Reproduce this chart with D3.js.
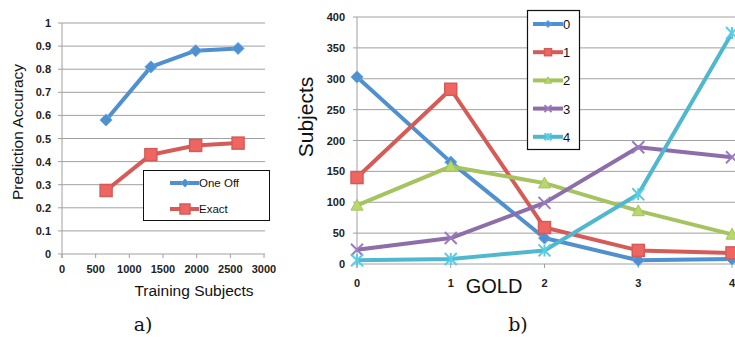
<!DOCTYPE html>
<html>
  <head>
    <meta charset="UTF-8" />
    <style>
      body { margin: 0; background: #fff; }
    </style>
  </head>
  <body>
    <script src="https://cdn.jsdelivr.net/npm/d3@7/dist/d3.min.js"></script>
    <script>
      // chart a) data
      var trainSizes = [655, 1320, 1985, 2615];
      var oneOff = [0.58, 0.81, 0.88, 0.89];
      var exact = [0.275, 0.43, 0.47, 0.48];
      var accTicks = [0, 0.1, 0.2, 0.3, 0.4, 0.5, 0.6, 0.7, 0.8, 0.9, 1];
      var sizeTicks = [0, 500, 1000, 1500, 2000, 2500, 3000];

      // chart b) data
      var gold = [0, 1, 2, 3, 4];
      var predNames = ["0", "1", "2", "3", "4"];
      var pred0 = [303, 165, 42, 6, 8];
      var pred1 = [140, 283, 59, 22, 18];
      var pred2 = [95, 158, 131, 86, 48];
      var pred3 = [23, 42, 99, 189, 173];
      var pred4 = [6, 8, 22, 113, 374];
      var subjTicks = [0, 50, 100, 150, 200, 250, 300, 350, 400];

      var colours = ["#5090cf", "#d65b57", "#a5c35e", "#8d6eab", "#4fb8cf"];
      var shapes = ["diamond", "square", "triangle", "cross", "star"];
      var sans = "Liberation Sans, Arial, sans-serif";

      var svg = d3.select("body").append("svg")
        .attr("width", 735).attr("height", 337)
        .style("font-family", sans);

      function marker(g, shape, x, y, c, s) {
        if (shape == "diamond") {
          g.append("path").attr("d", "M" + x + "," + (y - s) + "L" + (x + s) + "," + y + "L" + x + "," + (y + s) + "L" + (x - s) + "," + y + "Z")
            .attr("fill", c).attr("stroke", d3.color(c).brighter(0.4)).attr("stroke-width", 1);
        } else if (shape == "square") {
          g.append("rect").attr("x", x - s).attr("y", y - s).attr("width", 2 * s).attr("height", 2 * s)
            .attr("fill", d3.color(c).brighter(0.3)).attr("stroke", c).attr("stroke-width", 1.5);
        } else if (shape == "triangle") {
          g.append("path").attr("d", "M" + x + "," + (y - s) + "L" + (x + s) + "," + (y + s * 0.8) + "L" + (x - s) + "," + (y + s * 0.8) + "Z")
            .attr("fill", d3.color(c).brighter(0.3)).attr("stroke", c).attr("stroke-width", 1);
        } else if (shape == "cross") {
          g.append("path").attr("d", "M" + (x - s) + "," + (y - s) + "L" + (x + s) + "," + (y + s) + "M" + (x + s) + "," + (y - s) + "L" + (x - s) + "," + (y + s))
            .attr("stroke", d3.color(c).brighter(0.3)).attr("stroke-width", 2);
        } else {
          g.append("path").attr("d", "M" + (x - s) + "," + (y - s) + "L" + (x + s) + "," + (y + s) + "M" + (x + s) + "," + (y - s) + "L" + (x - s) + "," + (y + s) + "M" + x + "," + (y - s) + "L" + x + "," + (y + s))
            .attr("stroke", d3.color(c).brighter(0.3)).attr("stroke-width", 2);
        }
      }

      // ---------- a) ----------
      var xa = d3.scaleLinear().domain([0, 3000]).range([62, 264]);
      var ya = d3.scaleLinear().domain([0, 1]).range([254, 23]);
      var ga = svg.append("g");

      ga.selectAll("line.grid").data(accTicks).enter().append("line")
        .attr("x1", 62).attr("x2", 265)
        .attr("y1", function(d) { return ya(d); }).attr("y2", function(d) { return ya(d); })
        .attr("stroke", "#a0a0a0").attr("stroke-width", 1);
      ga.append("line").attr("x1", 62).attr("x2", 62).attr("y1", 23).attr("y2", 258)
        .attr("stroke", "#a0a0a0");
      ga.selectAll("line.xt").data(sizeTicks).enter().append("line")
        .attr("x1", function(d) { return xa(d); }).attr("x2", function(d) { return xa(d); })
        .attr("y1", 254).attr("y2", 258).attr("stroke", "#a0a0a0");
      ga.selectAll("line.yt").data(accTicks).enter().append("line")
        .attr("x1", 58).attr("x2", 62)
        .attr("y1", function(d) { return ya(d); }).attr("y2", function(d) { return ya(d); })
        .attr("stroke", "#a0a0a0");

      ga.selectAll("text.yl").data(accTicks).enter().append("text")
        .attr("x", 51).attr("y", function(d) { return ya(d) + 4; })
        .attr("text-anchor", "end").attr("font-size", 11).attr("font-weight", "bold").attr("fill", "#222")
        .text(function(d) { return d; });
      ga.selectAll("text.xl").data(sizeTicks).enter().append("text")
        .attr("x", function(d) { return xa(d); }).attr("y", 273)
        .attr("text-anchor", "middle").attr("font-size", 11).attr("font-weight", "bold").attr("fill", "#222")
        .text(function(d) { return d; });
      ga.append("text").attr("x", 194).attr("y", 296).attr("text-anchor", "middle")
        .attr("font-size", 15.5).attr("fill", "#111").text("Training Subjects");
      ga.append("text").attr("transform", "translate(23,132) rotate(-90)").attr("text-anchor", "middle")
        .attr("font-size", 15.5).attr("fill", "#111").text("Prediction Accuracy");

      var seriesA = [
        { name: "One Off", vals: oneOff, c: colours[0], shape: "diamond", s: 6 },
        { name: "Exact", vals: exact, c: colours[1], shape: "square", s: 6 }
      ];
      var lineA = d3.line().x(function(d, i) { return xa(trainSizes[i]); }).y(function(d) { return ya(d); });
      seriesA.forEach(function(s) {
        ga.append("path").attr("d", lineA(s.vals)).attr("fill", "none")
          .attr("stroke", s.c).attr("stroke-width", 4).attr("stroke-linejoin", "round");
        s.vals.forEach(function(v, i) { marker(ga, s.shape, xa(trainSizes[i]), ya(v), s.c, s.s); });
      });

      // legend a
      ga.append("rect").attr("x", 143.5).attr("y", 170.5).attr("width", 126).attr("height", 50)
        .attr("fill", "#fff").attr("stroke", "#111").attr("stroke-width", 1);
      seriesA.forEach(function(s, i) {
        var ly = 183 + i * 26;
        ga.append("line").attr("x1", 170).attr("x2", 199).attr("y1", ly).attr("y2", ly)
          .attr("stroke", s.c).attr("stroke-width", 4);
        marker(ga, s.shape, 185, ly, s.c, i == 0 ? 4 : 5);
        ga.append("text").attr("x", 199).attr("y", ly + 4).attr("font-size", 11.5).attr("fill", "#111").text(s.name);
      });

      // ---------- b) ----------
      var xb = d3.scaleLinear().domain([0, 4]).range([357, 732]);
      var yb = d3.scaleLinear().domain([0, 400]).range([264, 17]);
      var gb = svg.append("g");

      gb.selectAll("line.grid").data(subjTicks).enter().append("line")
        .attr("x1", 357).attr("x2", 735)
        .attr("y1", function(d) { return yb(d); }).attr("y2", function(d) { return yb(d); })
        .attr("stroke", "#a0a0a0").attr("stroke-width", 1);
      gb.append("line").attr("x1", 357).attr("x2", 357).attr("y1", 17).attr("y2", 268).attr("stroke", "#a0a0a0");
      gb.selectAll("line.xt").data(gold).enter().append("line")
        .attr("x1", function(d) { return xb(d); }).attr("x2", function(d) { return xb(d); })
        .attr("y1", 264).attr("y2", 268).attr("stroke", "#a0a0a0");
      gb.selectAll("line.yt").data(subjTicks).enter().append("line")
        .attr("x1", 353).attr("x2", 357)
        .attr("y1", function(d) { return yb(d); }).attr("y2", function(d) { return yb(d); })
        .attr("stroke", "#a0a0a0");

      gb.selectAll("text.yl").data(subjTicks).enter().append("text")
        .attr("x", 345).attr("y", function(d) { return yb(d) + 4; })
        .attr("text-anchor", "end").attr("font-size", 11).attr("font-weight", "bold").attr("fill", "#222")
        .text(function(d) { return d; });
      gb.selectAll("text.xl").data(gold).enter().append("text")
        .attr("x", function(d) { return xb(d); }).attr("y", 287)
        .attr("text-anchor", "middle").attr("font-size", 11).attr("font-weight", "bold").attr("fill", "#222")
        .text(function(d) { return d; });
      gb.append("text").attr("x", 494).attr("y", 293).attr("text-anchor", "middle")
        .attr("font-size", 20).attr("fill", "#111").text("GOLD");
      gb.append("text").attr("transform", "translate(313,117) rotate(-90)").attr("text-anchor", "middle")
        .attr("font-size", 21).attr("fill", "#111").text("Subjects");

      var seriesB = [pred0, pred1, pred2, pred3, pred4];
      var lineB = d3.line().x(function(d, i) { return xb(gold[i]); }).y(function(d) { return yb(d); });
      seriesB.forEach(function(vals, k) {
        gb.append("path").attr("d", lineB(vals)).attr("fill", "none")
          .attr("stroke", colours[k]).attr("stroke-width", 4).attr("stroke-linejoin", "round");
        vals.forEach(function(v, i) { marker(gb, shapes[k], xb(gold[i]), yb(v), colours[k], 6); });
      });

      // legend b
      gb.append("rect").attr("x", 527.5).attr("y", 10.5).attr("width", 52).attr("height", 139)
        .attr("fill", "#fff").attr("stroke", "#111").attr("stroke-width", 1.2);
      predNames.forEach(function(n, i) {
        var ly = 24 + i * 28.2;
        gb.append("line").attr("x1", 533).attr("x2", 563).attr("y1", ly).attr("y2", ly)
          .attr("stroke", colours[i]).attr("stroke-width", 4);
        marker(gb, shapes[i], 548, ly, colours[i], 3.5);
        gb.append("text").attr("x", 563).attr("y", ly + 5).attr("font-size", 13).attr("fill", "#111").text(n);
      });

      // sub-figure labels
      svg.append("text").attr("x", 143).attr("y", 331).attr("text-anchor", "middle")
        .style("font-family", "DejaVu Serif, Liberation Serif, serif").attr("font-size", 19).attr("fill", "#111").text("a)");
      svg.append("text").attr("x", 518).attr("y", 331).attr("text-anchor", "middle")
        .style("font-family", "DejaVu Serif, Liberation Serif, serif").attr("font-size", 19).attr("fill", "#111").text("b)");
    </script>
  </body>
</html>
